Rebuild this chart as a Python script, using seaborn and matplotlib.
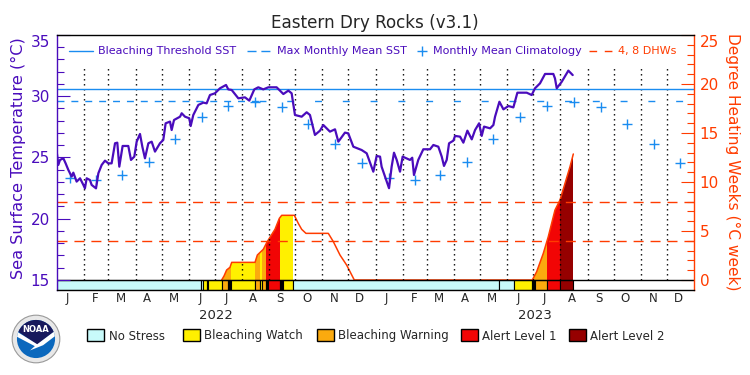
import matplotlib
matplotlib.use('Agg')
import matplotlib.pyplot as plt
from matplotlib.lines import Line2D
from matplotlib.patches import Rectangle, Circle, Polygon
from matplotlib.ticker import FixedLocator
import seaborn as sns

sns.set_style('white')
plt.rcParams['font.family'] = ['DejaVu Sans']

# Daily SST (days since 1 Jan 2022, deg C)
sst_days = [0, 1.5, 3.4, 7.3, 9.9, 13, 16.8, 18.7, 22.5, 26.4, 30.2, 32, 34, 37.8, 39.7, 44.7, 47.4, 51.2, 55, 58.8,
            62.6, 66.5, 69.1, 71.4, 75.2, 81.7, 84.8, 88.6, 91.3, 95.1, 97.8, 100.8, 104.7, 108.5, 112.3, 118, 121.8,
            124.5, 129.5, 131.4, 134.1, 141, 142.9, 146.7, 151.6, 153.2, 156.2, 162, 167.7, 171.5, 175.3, 181, 186.8,
            193.7, 196.3, 200.2, 207.8, 215.4, 220.4, 226.1, 230.7, 236.4, 242.2, 251.7, 259.4, 265.1, 268.9, 272.7,
            280.4, 286.1, 289.9, 295.6, 301.4, 305.2, 312.8, 318.6, 322.4, 330, 333.8, 339.6, 349.1, 354.9, 362.5,
            366.3, 370.2, 372, 375.9, 380.5, 383.5, 386.2, 389.3, 393.1, 396.1, 400.6, 404.5, 407.1, 409.1, 414,
            419.8, 427.5, 431.3, 437, 440.9, 443.5, 446.6, 449.3, 454.2, 456.2, 461.9, 465.7, 470.3, 475.3, 479.1,
            483.7, 486.7, 489.4, 496.3, 500.1, 502, 507, 511.6, 517.3, 523, 527.6, 538.3, 544, 547.8, 553.5, 559.3,
            568.8, 570.7, 572.7, 578.4, 586, 591]
sst_vals = [25.29, 24.39, 24.80, 24.93, 24.52, 23.98, 23.44, 23.76, 23.03, 23.30, 22.76, 22.48, 23.30, 23.16, 22.76,
            22.48, 23.71, 24.39, 24.74, 24.52, 24.52, 26.16, 26.21, 24.25, 25.94, 25.94, 24.80, 25.07, 26.29, 26.92,
            25.88, 24.93, 26.16, 26.29, 25.48, 26.16, 26.43, 27.79, 27.93, 27.24, 28.06, 28.33, 28.61, 28.33, 28.20,
            27.57, 28.47, 29.29, 29.48, 29.42, 30.10, 30.24, 30.65, 30.92, 30.56, 30.51, 29.83, 29.91, 29.64, 30.56,
            30.73, 30.56, 30.73, 30.73, 30.18, 30.46, 30.24, 28.47, 28.33, 28.69, 28.47, 26.84, 27.19, 27.65, 27.11,
            27.30, 26.29, 27.03, 26.97, 25.88, 25.61, 25.34, 23.84, 25.12, 25.07, 24.25, 23.43, 22.49, 24.25, 25.39,
            24.80, 23.84, 25.07, 24.93, 24.80, 24.98, 23.57, 24.80, 25.67, 25.67, 26.02, 25.88, 25.07, 24.31, 24.80,
            26.16, 26.37, 26.76, 26.70, 26.21, 27.19, 26.48, 27.24, 27.79, 26.76, 27.52, 27.38, 27.65, 28.33, 29.55,
            28.93, 29.20, 29.09, 30.29, 30.29, 30.10, 30.65, 31.05, 31.82, 31.82, 31.45, 30.65, 31.18, 32.09, 31.73]

# Monthly mean climatology
clim_days = [15, 45, 74, 105, 135, 166, 196, 227, 258, 288, 319, 349,
             380, 410, 439, 470, 500, 531, 561, 592, 623, 653, 684, 714]
clim_vals = [23.35, 23.14, 23.54, 24.61, 26.48, 28.28, 29.23, 29.56, 29.10, 27.71, 26.07, 24.52,
             23.35, 23.14, 23.54, 24.61, 26.48, 28.28, 29.23, 29.56, 29.10, 27.71, 26.07, 24.52]
threshold_sst = 30.57
mmm_sst = 29.59

# Degree heating weeks
dhw_days = [188.7, 191.4, 194.4, 198.2, 200.2, 226.9, 229.6, 236.4, 240.3, 243.3, 249.8, 254.8, 257.5, 272, 276.5,
            280.4, 285.3, 310.9, 316.7, 324.3, 331.9, 340.7, 544.7, 549.7, 557.3, 563, 570.7, 576.4, 582.2, 587.9, 591.7]
dhw_vals = [0, 0.41, 1.02, 1.29, 1.8, 1.8, 2.55, 3.13, 3.81, 4.25, 5.17, 6.29, 6.6, 6.6, 5.78,
            5.17, 4.76, 4.76, 3.91, 2.55, 1.53, 0, 0, 0.85, 2.72, 4.42, 7.14, 8.16, 9.87, 11.56, 12.86]

# Bleaching stress bar
CY, YE, OR, RE, DR, BK = '#c8fafa', '#fff000', '#fbaa0e', '#f20505', '#960000', '#000000'
stress_start = [0, 165.4, 167.7, 172.2, 173.6, 188.7, 196, 199.4, 226.9, 232.6, 234.9, 240, 241.8, 255.6, 259,
                270.1, 506.9, 524, 544.7, 547.8, 561.9, 576.1]
stress_end = [165.4, 167.7, 172.2, 173.6, 188.7, 196, 199.4, 226.9, 232.6, 234.9, 240, 241.8, 255.6, 259, 270.1,
              506.9, 524, 544.7, 547.8, 561.9, 576.1, 591.7]
stress_bar = [CY, CY, YE, CY, YE, OR, BK, YE, OR, YE, OR, BK, RE, BK, YE, CY, CY, YE, BK, OR, RE, DR]
stress_fill = ['none', 'none', YE, 'none', YE, OR, OR, YE, OR, YE, OR, RE, RE, YE, YE, 'none', 'none', YE, OR, OR, RE, DR]

month_days = [12, 44, 73, 103, 134, 164, 194, 225, 256, 286, 318, 347,
              377, 409, 438, 468, 499, 529, 559, 590, 621, 651, 683, 712]
month_labels = list('JFMAMJJASOND') * 2
month_edges = [31, 59, 90, 120, 151, 181, 212, 243, 273, 304, 334, 365,
               396, 424, 455, 485, 516, 546, 577, 608, 638, 669, 699]
years = ['2022', '2023']
year_days = [182, 548]

stress_names = ['No Stress', 'Bleaching Watch', 'Bleaching Warning', 'Alert Level 1', 'Alert Level 2']
stress_cols = [CY, YE, OR, RE, DR]
stress_patch_x = [87, 183, 317, 461, 569]
stress_text_x = [109, 204, 338, 482, 590]

PURPLE = '#4a0cbc'
BLUE = '#1a8cf0'
RED = '#ff3c00'


def fx(x):
    return x / 750


def fy(y):
    return 1 - y / 375


fig = plt.figure(figsize=(7.5, 3.75), dpi=100)
ax = fig.add_axes([fx(57), fy(290), fx(637), 255 / 375])
ax2 = ax.twinx()
ax.set_zorder(ax2.get_zorder() + 1)
ax.patch.set_visible(False)

ax.set_xlim(0, 730)
ax.set_ylim(14.18, 35)
ax2.set_ylim(-1.02, 25)

# DHW area, coloured by stress level
under = ax2.fill_between(dhw_days, 0, dhw_vals, color='none')
clip = under.get_paths()[0]
for s, e, c in zip(stress_start, stress_end, stress_fill):
    b = ax2.bar(s, 25, width=e - s, bottom=0, align='edge', color=c, linewidth=0)
    b[0].set_clip_path(clip, ax2.transData)
sns.lineplot(x=dhw_days, y=dhw_vals, color=RED, linewidth=1.1, sort=False, errorbar=None, ax=ax2)
for lev in [4, 8]:
    ax2.axhline(lev, color=RED, linewidth=1, dashes=(7.2, 5))

# stress bar along the bottom
for s, e, c in zip(stress_start, stress_end, stress_bar):
    ax2.bar(s, 1.02, width=e - s, bottom=-1.02, align='edge', color=c, edgecolor='black', linewidth=0.8)
ax2.axhline(0, color='black', linewidth=1)

ax.vlines(month_edges, 15, 32.5, color='black', linewidth=1, linestyles=(0, (1, 2.6)))
ax.axhline(threshold_sst, color=BLUE, linewidth=1)
# the dash spacing of this line widens partway along
ax.plot([0, 232], [mmm_sst, mmm_sst], color=BLUE, linewidth=1, dashes=(5, 5))
ax.plot([232, 730], [mmm_sst, mmm_sst], color=BLUE, linewidth=1, dashes=(5, 15))
sns.scatterplot(x=clim_days, y=clim_vals, marker='+', s=60, color=BLUE, linewidth=1, ax=ax, zorder=4)
sns.lineplot(x=sst_days, y=sst_vals, color=PURPLE, linewidth=1.6, sort=False, errorbar=None, ax=ax, zorder=5)

# axes dressing
ax.set_xticks([])
ax2.set_xticks([])
ax.set_ylabel('')
ax2.set_ylabel('')
ax.set_yticks([15, 20, 25, 30, 35])
ax.yaxis.set_minor_locator(FixedLocator(list(range(15, 36))))
ax2.set_yticks([0, 5, 10, 15, 20, 25])
ax2.yaxis.set_minor_locator(FixedLocator(list(range(0, 26))))
ax.tick_params(axis='y', which='major', direction='in', length=9.6, width=0.8, color=PURPLE,
               labelcolor=PURPLE, labelsize=11, pad=5, left=True)
ax.tick_params(axis='y', which='minor', direction='in', length=4.8, width=0.8, color=PURPLE, left=True)
ax2.tick_params(axis='y', which='major', direction='in', length=9.6, width=0.8, color=RED,
                labelcolor=RED, labelsize=11, pad=4, right=True)
ax2.tick_params(axis='y', which='minor', direction='in', length=4.8, width=0.8, color=RED, right=True)
ax.get_yticklabels()[-1].set_va('top')
ax2.get_yticklabels()[-1].set_va('top')

for name, sp in ax.spines.items():
    sp.set_visible(True)
    sp.set_linewidth(1)
    sp.set_color({'left': PURPLE, 'right': RED}.get(name, 'black'))
for sp in ax2.spines.values():
    sp.set_visible(False)

for d, m in zip(month_days, month_labels):
    ax.text(d, -0.035, m, transform=ax.get_xaxis_transform(), ha='center', va='center', fontsize=8.5)
for d, y in zip(year_days, years):
    ax.text(d, -0.099, y, transform=ax.get_xaxis_transform(), ha='center', va='center', fontsize=9.5)

fig.text(fx(375), fy(23), 'Eastern Dry Rocks (v3.1)', ha='center', va='center', fontsize=12.1)
fig.text(fx(18), fy(158), 'Sea Surface Temperature (°C)', rotation=90, ha='center', va='center',
         color=PURPLE, fontsize=11.6)
fig.text(fx(733), fy(162), 'Degree Heating Weeks (°C week)', rotation=270, ha='center', va='center',
         color=RED, fontsize=11.1)

# legend inside the top of the plot
fig.add_artist(Line2D([fx(69), fx(93)], [fy(51), fy(51)], color=BLUE, linewidth=1))
fig.text(fx(98), fy(51), 'Bleaching Threshold SST', va='center', color=PURPLE, fontsize=8)
fig.add_artist(Line2D([fx(247), fx(270)], [fy(51), fy(51)], color=BLUE, linewidth=1, dashes=(6.5, 3.5)))
fig.text(fx(277), fy(51), 'Max Monthly Mean SST', va='center', color=PURPLE, fontsize=8)
fig.add_artist(Line2D([fx(422)], [fy(51)], color=BLUE, marker='+', markersize=7.5, markeredgewidth=1))
fig.text(fx(433), fy(51), 'Monthly Mean Climatology', va='center', color=PURPLE, fontsize=8)
fig.add_artist(Line2D([fx(589), fx(612)], [fy(51), fy(51)], color=RED, linewidth=1, dashes=(5.5, 5.5)))
fig.text(fx(618), fy(51), '4, 8 DHWs', va='center', color=RED, fontsize=8)

# stress legend along the bottom
for px, tx, name, col in zip(stress_patch_x, stress_text_x, stress_names, stress_cols):
    fig.add_artist(Rectangle((fx(px), fy(341)), 17 / 750, 12 / 375, transform=fig.transFigure,
                             facecolor=col, edgecolor='black', linewidth=1))
    fig.text(fx(tx), fy(336), name, va='center', fontsize=8.5)

# NOAA logo
logo = fig.add_axes([fx(11), fy(364), 50 / 750, 50 / 375])
logo.set_xlim(-1.05, 1.05)
logo.set_ylim(-1.05, 1.05)
logo.set_aspect('equal')
logo.axis('off')
logo.add_patch(Circle((0, 0), 1.0, facecolor='#e8e8e8', edgecolor='#9a9a9a', linewidth=0.8))
logo.add_patch(Circle((0, 0), 0.8, facecolor='#0b68bd', edgecolor='none'))
disc = Circle((0, 0), 0.8, transform=logo.transData)
sky = Polygon([(-0.85, 0.38), (-0.5, 0.85), (0.5, 0.85), (0.85, 0.38), (0.05, -0.24)], facecolor='#17185c', edgecolor='none')
logo.add_patch(sky)
sky.set_clip_path(disc)
wave = Polygon([(-0.85, 0.34), (0.05, -0.22), (0.85, 0.38), (0.85, 0.16), (0.3, -0.26), (-0.25, -0.48), (-0.05, -0.3), (-0.85, 0.12)],
               facecolor='white', edgecolor='none')
logo.add_patch(wave)
wave.set_clip_path(disc)
logo.text(0, 0.4, 'NOAA', color='white', fontsize=6, fontweight='bold', ha='center', va='center')

fig.savefig('out.png', dpi=100)
